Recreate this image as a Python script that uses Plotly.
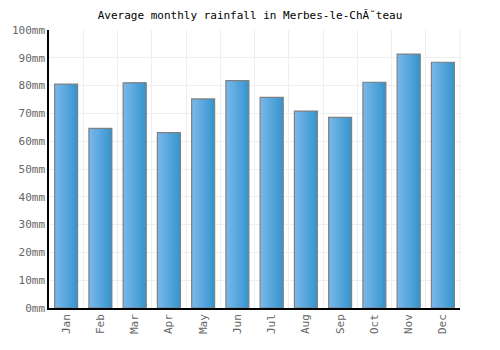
import plotly.graph_objects as go

months = ["Jan", "Feb", "Mar", "Apr", "May", "Jun", "Jul", "Aug", "Sep", "Oct", "Nov", "Dec"]
rainfall = [80.5, 64.6, 81.0, 63.1, 75.2, 81.8, 75.8, 70.8, 68.6, 81.2, 91.3, 88.4]
y_ticks = [0, 10, 20, 30, 40, 50, 60, 70, 80, 90, 100]
y_labels = [f"{v}mm" for v in y_ticks]

xs = list(range(len(months)))
bar_w = 0.67
n_slices = 12
c0 = (120, 183, 234)
c1 = (56, 150, 207)

fig = go.Figure()
for i in range(n_slices):
    t = i / (n_slices - 1)
    col = tuple(round(c0[k] + (c1[k] - c0[k]) * t) for k in range(3))
    w = bar_w / n_slices
    fig.add_trace(go.Bar(
        x=xs, y=rainfall, width=bar_w - i * w, offset=-bar_w / 2 + i * w,
        marker=dict(color=f"rgb{col}", line=dict(width=0)),
        hoverinfo="skip", showlegend=False,
    ))
fig.add_trace(go.Bar(
    x=xs, y=rainfall, width=bar_w, offset=-bar_w / 2,
    marker=dict(color="rgba(0,0,0,0)", line=dict(color="#808080", width=1.2)),
    showlegend=False,
))

font = "DejaVu Sans Mono"
fig.update_layout(
    width=500, height=350,
    margin=dict(l=40, r=40, t=30, b=42),
    barmode="overlay",
    plot_bgcolor="white", paper_bgcolor="white",
    title=dict(text="Average monthly rainfall in Merbes-le-ChĂ˘teau", x=0.5, xanchor="center",
               y=0.957, yanchor="middle", font=dict(family=font, size=11, color="#000")),
    font=dict(family=font, size=11, color="#666"),
)
fig.update_xaxes(
    range=[-0.5, 11.5], tickvals=xs, ticktext=months, tickangle=-90,
    showgrid=False, showline=True, linecolor="#000", linewidth=1.5,
    ticks="", zeroline=False,
    minor=dict(tick0=0.5, dtick=1, showgrid=True, gridcolor="#eeeeee", gridwidth=1),
    tickfont=dict(family=font, size=11, color="#666"),
)
fig.update_yaxes(
    range=[0, 100], tickvals=y_ticks, ticktext=y_labels,
    showgrid=True, gridcolor="#eeeeee", gridwidth=1,
    showline=True, linecolor="#000", linewidth=1.5, ticks="", zeroline=False,
    tickfont=dict(family=font, size=11, color="#666"),
)
fig.add_shape(type="line", xref="paper", yref="paper", x0=1, x1=1, y0=0, y1=1,
              line=dict(color="#eeeeee", width=1), layer="below")
fig.write_html("out.html")
